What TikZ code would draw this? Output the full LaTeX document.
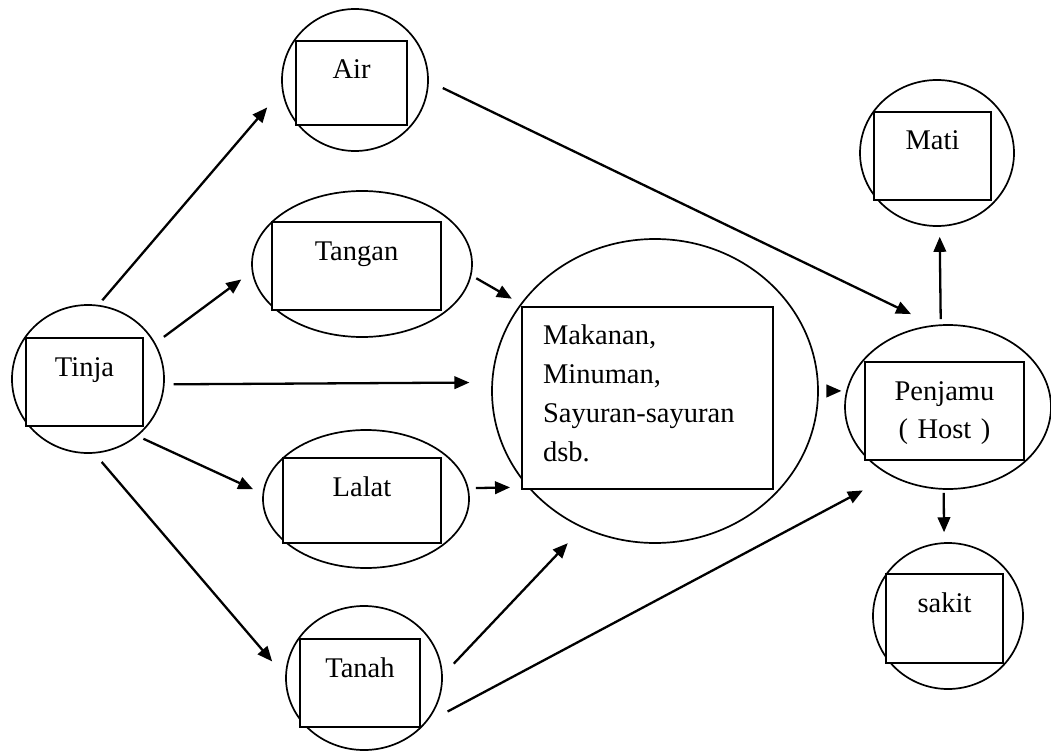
\documentclass[tikz,border=0pt]{standalone}
\usepackage{fontspec}
\setmainfont{Liberation Serif}
\usetikzlibrary{arrows.meta,shapes.geometric}
\definecolor{ink}{HTML}{000000}

\begin{document}
\begin{tikzpicture}[x=1pt,y=-1pt,>={Triangle[length=15pt,width=12.5pt]},font=\fontsize{28.5}{38.5}\selectfont]
 \tikzstyle{oval}=[ellipse,draw=ink,line width=1.7pt,inner sep=0pt]
 \tikzstyle{box}=[rectangle,draw=ink,line width=1.8pt,fill=white,inner sep=0pt,text height=38pt,align=center]
 \tikzstyle{arr}=[->,draw=ink,line width=2.3pt]
 \useasboundingbox (0,0) rectangle (1051,751);
 % ovals
 \node[oval,minimum width=152pt,minimum height=148pt] (tinja) at (88,379) {};
 \node[oval,minimum width=146pt,minimum height=142pt] (air) at (355,80) {};
 \node[oval,minimum width=220pt,minimum height=146pt] (tangan) at (362,264) {};
 \node[oval,minimum width=206pt,minimum height=138pt] (lalat) at (366,499) {};
 \node[oval,minimum width=156pt,minimum height=144pt] (tanah) at (364,678) {};
 \node[oval,minimum width=326pt,minimum height=304pt] (makanan) at (655,391) {};
 \node[oval,minimum width=206pt,minimum height=164pt] (penjamu) at (948,407) {};
 \node[oval,minimum width=154pt,minimum height=146pt] (mati) at (937,153) {};
 \node[oval,minimum width=150pt,minimum height=146pt] (sakit) at (948,616) {};
 % boxes
 \node[box,text width=117pt,text depth=50pt] (tinjabox) at (84.5,382) {Tinja};
 \node[box,text width=111pt,text depth=46pt] (airbox) at (351.5,83) {Air};
 \node[box,text width=169pt,text depth=50pt] (tanganbox) at (356.5,266) {Tangan};
 \node[box,text width=158pt,text depth=47pt] (lalatbox) at (362,500.5) {Lalat};
 \node[box,text width=120pt,text depth=50pt] (tanahbox) at (360,683) {Tanah};
 \node[box,text width=209pt,inner xsep=21pt,text height=37pt,text depth=145pt,align=left,font=\fontsize{28.5}{39}\selectfont] (makananbox) at (647.5,398) {Makanan,\\Minuman,\\Sayuran-sayuran\\dsb.};
 \node[box,text width=159pt,text depth=60pt] (penjamubox) at (944.5,411) {Penjamu\\( Host )};
 \node[box,text width=117pt,text depth=50pt] (matibox) at (932.5,156) {Mati};
 \node[box,text width=117pt,text depth=51pt] (sakitbox) at (944.5,618.5) {sakit};
 % arrows
 \draw[arr,shorten <=6pt,shorten >=22.6pt] (tinja.82) -- (air.188);
 \draw[arr,shorten <=10.5pt,shorten >=13pt] (tinja.28) -- (tangan.184);
 \draw[arr,shorten <=9pt,shorten >=22pt] (tinja.356) -- (makanan.177.5);
 \draw[arr,shorten <=6.3pt,shorten >=10.3pt] (tinja.311) -- (lalat.177);
 \draw[arr,shorten <=11pt,shorten >=20pt] (tinja.275) -- (tanah.179.4);
 \draw[arr,shorten <=5.5pt,shorten >=10pt] (tangan.354) -- (makanan.147.4);
 \draw[arr,shorten <=7.3pt,shorten >=17.5pt] (lalat.6) -- (makanan.217.7);
 \draw[arr,shorten <=16pt,shorten >=21pt] (tanah.2.6) -- (makanan.242.8);
 \draw[arr,shorten <=24.5pt,shorten >=31pt] (tanah.324) -- (penjamu.230.4);
 \draw[arr,shorten <=15.5pt,shorten >=25pt] (air.359) -- (penjamu.100.8);
 \draw[arr,shorten <=9pt,shorten >=4.7pt] (makanan.0) -- (penjamu.171.6);
 \draw[arr,shorten <=5.3pt,shorten >=10pt] (penjamu.95.6) -- (mati.272.4);
 \draw[arr,shorten <=3pt,shorten >=10pt] (penjamu.267.2) -- (sakit.93.1);
\end{tikzpicture}
\end{document}
